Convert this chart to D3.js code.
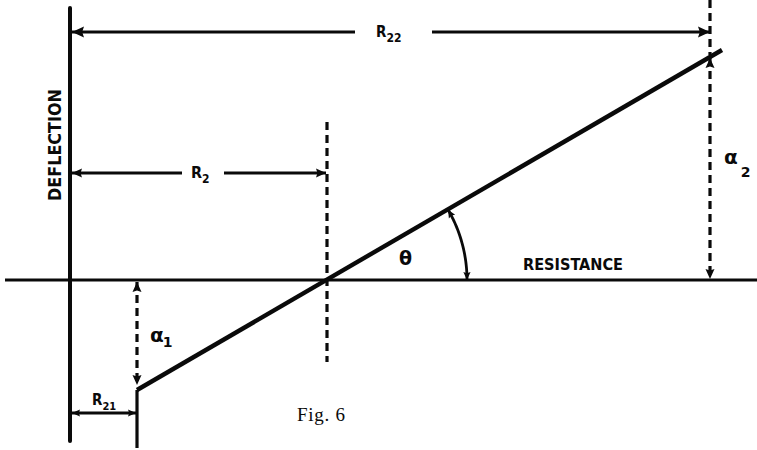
<!DOCTYPE html>
<html>
<head>
<meta charset="utf-8">
<script src="https://cdn.jsdelivr.net/npm/d3@7/dist/d3.min.js"></script>
<style>
  html, body { margin: 0; padding: 0; background: #fff; }
  svg { display: block; }
</style>
</head>
<body>
<svg id="fig" width="757" height="450"></svg>
<script>
// Resistance readings marked along the horizontal axis (plot units)
const markNames = ["R21", "R2", "R22"];
const markResistance = [6.7, 25.7, 64.0];

// Straight calibration line: resistance vs deflection
const lineResistance = [6.7, 65.2];
const lineDeflection = [-11.0, 23.0];

// Deflections read at the two ends
const deflectionNames = ["α1", "α2"];
const deflectionValues = [-11.0, 22.3];

// Axis titles and caption
const axisTitles = ["DEFLECTION", "RESISTANCE"];
const caption = ["Fig. 6"];

const ink = "#0a0a0a";
const svg = d3.select("#fig");

const x = d3.scaleLinear().domain([0, 10]).range([70, 170]);
const y = d3.scaleLinear().domain([0, 10]).range([280, 180]);

// Arrowhead markers
const defs = svg.append("defs");
function marker(id, w, h) {
  defs.append("marker")
    .attr("id", id)
    .attr("viewBox", "0 0 10 10")
    .attr("refX", 10).attr("refY", 5)
    .attr("markerUnits", "userSpaceOnUse")
    .attr("markerWidth", w).attr("markerHeight", h)
    .attr("orient", "auto-start-reverse")
    .append("path")
    .attr("d", "M0,0.5 L10,5 L0,9.5 L1.5,5 Z")
    .attr("fill", ink);
}
marker("big", 21, 12);
marker("mid", 16, 10);
marker("small", 13, 8);

const R21 = markResistance[0], R2 = markResistance[1], R22 = markResistance[2];
const a1 = deflectionValues[0], a2 = deflectionValues[1];

// Axes
svg.append("line")
  .attr("x1", x(0)).attr("x2", x(0))
  .attr("y1", y(27.2)).attr("y2", y(-16.1))
  .attr("stroke", ink).attr("stroke-width", 4).attr("stroke-linecap", "round");
svg.append("line")
  .attr("x1", x(-6.5)).attr("x2", x(68.7))
  .attr("y1", y(0)).attr("y2", y(0))
  .attr("stroke", ink).attr("stroke-width", 3);

// Dashed verticals
const dash = "8,5";
const dw = 3.2;
svg.append("line")
  .attr("x1", x(R22)).attr("x2", x(R22))
  .attr("y1", y(28)).attr("y2", y(a2) - 2)
  .attr("stroke", ink).attr("stroke-width", dw).attr("stroke-dasharray", dash);
svg.append("line")
  .attr("x1", x(R22)).attr("x2", x(R22))
  .attr("y1", y(a2) + 1).attr("y2", y(0) - 1)
  .attr("stroke", ink).attr("stroke-width", dw).attr("stroke-dasharray", dash)
  .attr("marker-start", "url(#mid)").attr("marker-end", "url(#mid)");
svg.append("line")
  .attr("x1", x(R2)).attr("x2", x(R2))
  .attr("y1", y(15.8)).attr("y2", y(-8.2))
  .attr("stroke", ink).attr("stroke-width", dw).attr("stroke-dasharray", dash);
svg.append("line")
  .attr("x1", x(R21)).attr("x2", x(R21))
  .attr("y1", y(0) + 2).attr("y2", y(a1) - 5)
  .attr("stroke", ink).attr("stroke-width", dw).attr("stroke-dasharray", dash)
  .attr("marker-start", "url(#mid)").attr("marker-end", "url(#mid)");

// Solid extension below the lower end of the line
svg.append("line")
  .attr("x1", x(R21)).attr("x2", x(R21))
  .attr("y1", y(a1)).attr("y2", y(-16.8))
  .attr("stroke", ink).attr("stroke-width", 3.2);

// Calibration line
const pts = lineResistance.map((r, i) => [x(r), y(lineDeflection[i])]);
svg.append("path")
  .attr("d", d3.line()(pts))
  .attr("fill", "none").attr("stroke", ink).attr("stroke-width", 4.4);

// Dimension lines
function dim(xa, xb, yy, gapA, gapB, mk, sw) {
  if (gapA == null) {
    svg.append("line").attr("x1", xa).attr("x2", xb).attr("y1", yy).attr("y2", yy)
      .attr("stroke", ink).attr("stroke-width", sw)
      .attr("marker-start", `url(#${mk})`).attr("marker-end", `url(#${mk})`);
    return;
  }
  svg.append("line").attr("x1", xb).attr("x2", gapB).attr("y1", yy).attr("y2", yy)
    .attr("stroke", ink).attr("stroke-width", sw).attr("marker-start", `url(#${mk})`);
  svg.append("line").attr("x1", xa).attr("x2", gapA).attr("y1", yy).attr("y2", yy)
    .attr("stroke", ink).attr("stroke-width", sw).attr("marker-start", `url(#${mk})`);
}
dim(x(0) + 2, x(R22), y(24.8), x(28.5), x(36.2), "big", 3.2);
dim(x(0) + 2, x(R2) - 1, y(10.7), x(11.2), x(15.4), "mid", 3.2);
dim(x(0) + 2, x(R21) - 1, y(-13.3), null, null, "small", 2.8);

// Angle arc between the line and the resistance axis
const cx = x(R2), cy = y(0);
const rad = x(14) - x(0);
const theta = Math.atan2(pts[0][1] - pts[1][1], pts[1][0] - pts[0][0]);
const arcPts = d3.range(0, 41).map(i => {
  const t = theta * (1 - i / 40);
  return [cx + rad * Math.cos(t), cy - rad * Math.sin(t)];
});
svg.append("path")
  .attr("d", d3.line()(arcPts))
  .attr("fill", "none").attr("stroke", ink).attr("stroke-width", 2.8)
  .attr("marker-start", "url(#small)").attr("marker-end", "url(#small)");

// Labels
const narrow = "'DejaVu Sans Condensed', 'Liberation Sans Narrow', 'Liberation Sans', sans-serif";

function rLabel(px, py, sub, size, subSize) {
  const t = svg.append("text").attr("x", px).attr("y", py)
    .attr("font-family", narrow).attr("font-weight", "bold")
    .attr("font-size", size).attr("fill", ink);
  t.append("tspan").text("R");
  t.append("tspan").attr("dy", size * 0.3).attr("font-size", subSize).text(sub);
}
rLabel(376, 37, markNames[2].slice(1), 15, 12);
rLabel(191, 178, markNames[1].slice(1), 16, 12);
rLabel(92, 405, markNames[0].slice(1), 15, 11);

svg.append("text")
  .attr("transform", `translate(61,${y(13.5)}) rotate(-90)`)
  .attr("text-anchor", "middle")
  .attr("font-family", narrow).attr("font-weight", "bold")
  .attr("font-size", 17).attr("fill", ink)
  .attr("textLength", 112).attr("lengthAdjust", "spacingAndGlyphs")
  .text(axisTitles[0]);

svg.append("text")
  .attr("x", 523).attr("y", 270)
  .attr("font-family", narrow).attr("font-weight", "bold")
  .attr("font-size", 15).attr("fill", ink)
  .attr("textLength", 100).attr("lengthAdjust", "spacingAndGlyphs")
  .text(axisTitles[1]);

svg.append("text")
  .attr("x", 399).attr("y", 265)
  .attr("font-family", "'DejaVu Sans', sans-serif").attr("font-weight", "bold")
  .attr("font-size", 19).attr("fill", ink)
  .text("θ");

function alphaLabel(px, py, sub, subDx, subDy) {
  const t = svg.append("text").attr("x", px).attr("y", py)
    .attr("font-family", "'DejaVu Sans', sans-serif").attr("font-weight", "bold")
    .attr("font-size", 20).attr("fill", ink);
  t.append("tspan").text("α");
  t.append("tspan").attr("dx", subDx).attr("dy", subDy).attr("font-size", 14).text(sub);
}
alphaLabel(150, 342, deflectionNames[0].slice(1), -1, 5);
alphaLabel(724, 164, deflectionNames[1].slice(1), 3, 13);

svg.append("text")
  .attr("x", 297).attr("y", 421)
  .attr("font-family", "'Liberation Serif', 'Times New Roman', serif")
  .attr("font-size", 19).attr("fill", ink)
  .attr("textLength", 48).attr("lengthAdjust", "spacing")
  .text(caption[0]);
</script>
</body>
</html>
